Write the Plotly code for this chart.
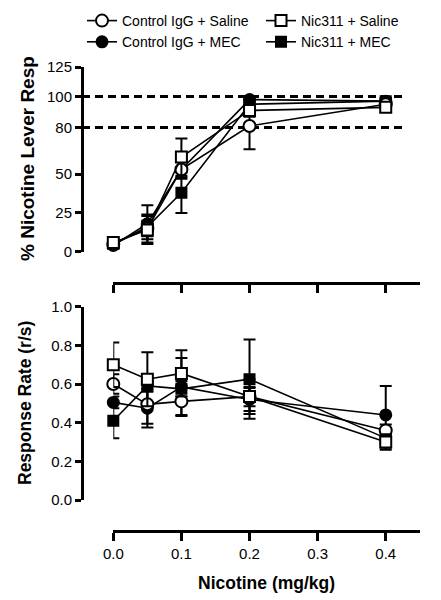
import plotly.graph_objects as go

# ---------------- data ----------------
dose = [0.0, 0.05, 0.1, 0.2, 0.4]
x_tick_vals = [0.0, 0.1, 0.2, 0.3, 0.4]
x_tick_text = ["0.0", "0.1", "0.2", "0.3", "0.4"]

series_names = ["Control IgG + Saline", "Nic311 + Saline", "Control IgG + MEC", "Nic311 + MEC"]

# % nicotine lever responding (top panel)
pct_cs = [5, 15, 53, 81, 95]
pct_cs_err = [2, 5, 5, 15, 3]
pct_ns = [6, 14, 61, 91, 93]
pct_ns_err = [2, 9, 12, 4, 3]
pct_cm = [4, 18, 53, 98, 97]
pct_cm_err = [2, 12, 6, 2, 2]
pct_nm = [5, 16, 38, 95, 97]
pct_nm_err = [2, 8, 13, 3, 2]

# top axis: the segment above 100 is drawn compressed in the original,
# its end tick (labelled 125) sits at the top of the axis
top_tick_vals = [0, 25, 50, 80, 100, 119]
top_tick_text = ["0", "25", "50", "80", "100", "125"]
top_range = [0, 119]
ref_lines = [80, 100]

# response rate (bottom panel)
rate_cs = [0.60, 0.495, 0.51, 0.535, 0.36]
rate_cs_err = [0.05, 0.10, 0.07, 0.05, 0.03]
rate_ns = [0.70, 0.625, 0.655, 0.535, 0.30]
rate_ns_err = [0.115, 0.14, 0.12, 0.09, 0.04]
rate_cm = [0.505, 0.475, 0.585, 0.52, 0.44]
rate_cm_err = [0.03, 0.10, 0.15, 0.06, 0.15]
rate_nm = [0.41, 0.59, 0.575, 0.625, 0.32]
rate_nm_err = [0.09, 0.03, 0.04, 0.205, 0.05]

bottom_tick_vals = [0.0, 0.2, 0.4, 0.6, 0.8, 1.0]

# ---------------- layout helpers ----------------
OFF = 8  # default page margin around the plot div
W, H = 441 - OFF, 600 - OFF
FONT = "Liberation Sans, Arial, Helvetica, sans-serif"


def px(p):
    return (p - OFF) / W


def py(p):
    return 1 - (p - OFF) / H


styles = {
    "Control IgG + Saline": dict(symbol="circle", fill="white", size=12, rank=1, order=3),
    "Nic311 + Saline": dict(symbol="square", fill="white", size=11, rank=2, order=4),
    "Control IgG + MEC": dict(symbol="circle", fill="black", size=11, rank=3, order=1),
    "Nic311 + MEC": dict(symbol="square", fill="black", size=10, rank=4, order=2),
}

top_data = {
    "Control IgG + Saline": (pct_cs, pct_cs_err),
    "Nic311 + Saline": (pct_ns, pct_ns_err),
    "Control IgG + MEC": (pct_cm, pct_cm_err),
    "Nic311 + MEC": (pct_nm, pct_nm_err),
}
bottom_data = {
    "Control IgG + Saline": (rate_cs, rate_cs_err),
    "Nic311 + Saline": (rate_ns, rate_ns_err),
    "Control IgG + MEC": (rate_cm, rate_cm_err),
    "Nic311 + MEC": (rate_nm, rate_nm_err),
}

fig = go.Figure()

draw_order = sorted(series_names, key=lambda n: styles[n]["order"])

for data, xa, ya, show in [
    (top_data, "x2", "y2", True),
    (bottom_data, "x", "y", False),
]:
    for name in draw_order:
        st = styles[name]
        vals, errs = data[name]
        fig.add_trace(
            go.Scatter(
                x=dose,
                y=vals,
                name=name,
                mode="lines+markers",
                xaxis=xa,
                yaxis=ya,
                showlegend=show,
                legendrank=st["rank"],
                cliponaxis=False,
                line=dict(color="black", width=1.6),
                marker=dict(
                    symbol=st["symbol"],
                    size=st["size"],
                    color=st["fill"],
                    line=dict(color="black", width=2),
                ),
                error_y=dict(
                    type="data",
                    array=errs,
                    visible=True,
                    color="black",
                    thickness=2,
                    width=6,
                ),
            )
        )

axis_common = dict(
    showgrid=False,
    zeroline=False,
    showline=True,
    linecolor="black",
    linewidth=3,
    ticks="outside",
    tickcolor="black",
    tickfont=dict(family=FONT, size=15, color="black"),
)

x_dom = [px(113.3), px(419.8)]

fig.update_layout(
    width=W,
    height=H,
    margin=dict(l=0, r=0, t=0, b=0, autoexpand=False),
    paper_bgcolor="white",
    plot_bgcolor="white",
    font=dict(family=FONT, color="black"),
    xaxis=dict(
        axis_common,
        domain=x_dom,
        range=[0, 0.45],
        anchor="free",
        position=py(530.7),
        tickvals=x_tick_vals,
        ticktext=x_tick_text,
        ticklen=8,
        tickwidth=3,
    ),
    xaxis2=dict(
        axis_common,
        domain=x_dom,
        range=[0, 0.45],
        anchor="free",
        position=py(283),
        tickvals=x_tick_vals,
        showticklabels=False,
        ticklen=8,
        tickwidth=3,
    ),
    yaxis=dict(
        axis_common,
        domain=[py(500), py(306.7)],
        range=[0, 1.0],
        anchor="free",
        position=px(82),
        tickvals=bottom_tick_vals,
        tickformat=".1f",
        ticklen=6,
        tickwidth=2.5,
    ),
    yaxis2=dict(
        axis_common,
        domain=[py(251.7), py(67)],
        range=top_range,
        anchor="free",
        position=px(82),
        tickvals=top_tick_vals,
        ticktext=top_tick_text,
        ticklen=6,
        tickwidth=2.5,
    ),
    legend=dict(
        orientation="h",
        x=px(82),
        y=py(5),
        xanchor="left",
        yanchor="top",
        entrywidth=134,
        entrywidthmode="pixels",
        itemwidth=30,
        font=dict(family=FONT, size=14, color="black"),
        bgcolor="rgba(0,0,0,0)",
        traceorder="normal",
    ),
)

for val in ref_lines:
    fig.add_shape(
        type="line",
        xref="paper",
        yref="y2",
        x0=px(82),
        x1=px(405),
        y0=val,
        y1=val,
        layer="below",
        line=dict(color="black", width=3, dash="8px,5px"),
    )

fig.add_annotation(
    text="<b>% Nicotine Lever Resp</b>",
    xref="paper", yref="paper",
    x=px(27), y=py(159),
    xanchor="center", yanchor="middle",
    textangle=-90, showarrow=False,
    font=dict(family=FONT, size=19, color="black"),
)
fig.add_annotation(
    text="<b>Response Rate (r/s)</b>",
    xref="paper", yref="paper",
    x=px(25), y=py(403),
    xanchor="center", yanchor="middle",
    textangle=-90, showarrow=False,
    font=dict(family=FONT, size=17.5, color="black"),
)
fig.add_annotation(
    text="<b>Nicotine (mg/kg)</b>",
    xref="paper", yref="paper",
    x=px(266), y=py(583),
    xanchor="center", yanchor="middle",
    showarrow=False,
    font=dict(family=FONT, size=17.5, color="black"),
)

fig.write_html("out.html")
